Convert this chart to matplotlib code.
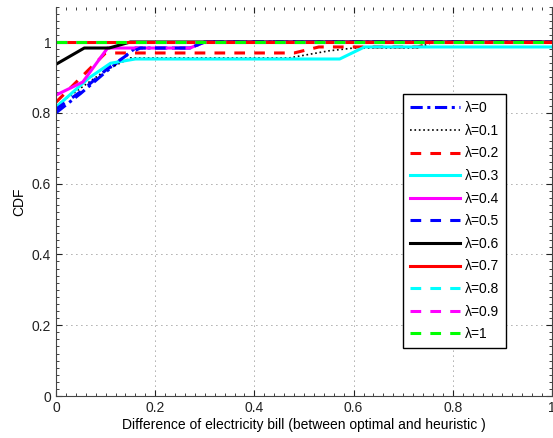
import matplotlib
matplotlib.use("Agg")
import matplotlib.pyplot as plt
from matplotlib.ticker import MultipleLocator

plt.rcParams['font.family'] = ['Liberation Sans', 'DejaVu Sans']

labels = ['λ=0', 'λ=0.1', 'λ=0.2', 'λ=0.3', 'λ=0.4', 'λ=0.5',
          'λ=0.6', 'λ=0.7', 'λ=0.8', 'λ=0.9', 'λ=1']

x_l0 = [0, 0.05, 0.10, 0.16, 0.27, 0.30, 1.0]
y_l0 = [0.80, 0.855, 0.915, 0.983, 0.983, 1.0, 1.0]

x_l1 = [0, 0.05, 0.10, 0.15, 0.47, 0.55, 0.60, 0.73, 0.76, 1.0]
y_l1 = [0.82, 0.87, 0.92, 0.955, 0.955, 0.975, 0.983, 0.983, 1.0, 1.0]

x_l2 = [0, 0.10, 0.48, 0.53, 0.73, 0.76, 1.0]
y_l2 = [0.83, 0.969, 0.969, 0.986, 0.986, 1.0, 1.0]

x_l3 = [0, 0.066, 0.11, 0.16, 0.572, 0.622, 1.0]
y_l3 = [0.816, 0.898, 0.94, 0.952, 0.952, 0.986, 0.986]

x_l4 = [0, 0.054, 0.104, 0.27, 0.30, 1.0]
y_l4 = [0.85, 0.887, 0.983, 0.983, 1.0, 1.0]

x_l5 = [0, 0.05, 0.10, 0.15, 0.17, 0.27, 0.30, 1.0]
y_l5 = [0.81, 0.86, 0.92, 0.97, 0.983, 0.983, 1.0, 1.0]

x_l6 = [0, 0.057, 0.107, 0.15, 1.0]
y_l6 = [0.937, 0.983, 0.983, 1.0, 1.0]

x_l7 = [0, 1.0]
y_l7 = [1.0, 1.0]
x_l8 = [0, 1.0]
y_l8 = [1.0, 1.0]
x_l9 = [0, 1.0]
y_l9 = [1.0, 1.0]
x_l10 = [0, 1.0]
y_l10 = [1.0, 1.0]

series = [(x_l0, y_l0), (x_l1, y_l1), (x_l2, y_l2), (x_l3, y_l3), (x_l4, y_l4),
          (x_l5, y_l5), (x_l6, y_l6), (x_l7, y_l7), (x_l8, y_l8), (x_l9, y_l9),
          (x_l10, y_l10)]

styles = [
    dict(color='#0000ff', dashes=(4, 1.5, 1, 1.5)),
    dict(color='#000000', linestyle=':', lw=1.2),
    dict(color='#ff0000', dashes=(3.5, 3)),
    dict(color='#00ffff', linestyle='-'),
    dict(color='#ff00ff', linestyle='-'),
    dict(color='#0000ff', dashes=(3.5, 3)),
    dict(color='#000000', linestyle='-'),
    dict(color='#ff0000', linestyle='-'),
    dict(color='#00ffff', dashes=(3.5, 3)),
    dict(color='#ff00ff', dashes=(3.5, 3)),
    dict(color='#00ff00', dashes=(3.5, 3)),
]

fig = plt.figure(figsize=(5.53, 4.38), dpi=100)
ax = fig.add_axes([56/553, 42/438, 496/553, 389.4/438])

for (xs, ys), st, lab in zip(series, styles, labels):
    kw = dict(lw=2.2)
    kw.update(st)
    ax.plot(xs, ys, label=lab, **kw)

ax.set_xlim(0, 1)
ax.set_ylim(0, 1.1)
ax.set_xticks([0, 0.2, 0.4, 0.6, 0.8, 1])
ax.set_xticklabels(['0', '0.2', '0.4', '0.6', '0.8', '1'])
ax.set_yticks([0, 0.2, 0.4, 0.6, 0.8, 1])
ax.set_yticklabels(['0', '0.2', '0.4', '0.6', '0.8', '1'])
ax.xaxis.set_minor_locator(MultipleLocator(0.02))
ax.yaxis.set_minor_locator(MultipleLocator(0.02))
ax.tick_params(which='both', direction='in', top=True, right=True, labelsize=10, colors='#222222')
ax.tick_params(which='major', length=4)
ax.tick_params(which='minor', length=2)
ax.grid(True, which='major', linestyle=(0, (1, 5)), color='#555555', lw=0.6)
for s in ax.spines.values():
    s.set_color('#444444')
    s.set_linewidth(0.8)
ax.spines['top'].set_visible(False)

ax.set_xlabel('Difference of electricity bill (between optimal and heuristic )', fontsize=10, labelpad=2)
ax.set_ylabel('CDF', fontsize=10, labelpad=4)

leg = ax.legend(loc='upper left', bbox_to_anchor=(0.70, 0.775), fontsize=10,
                frameon=True, fancybox=False, framealpha=1, edgecolor='black',
                handlelength=3.6, labelspacing=0.62, handletextpad=0.35,
                borderpad=0.5, borderaxespad=0)
leg.get_frame().set_linewidth(1.0)

fig.savefig('out.png', dpi=100)
